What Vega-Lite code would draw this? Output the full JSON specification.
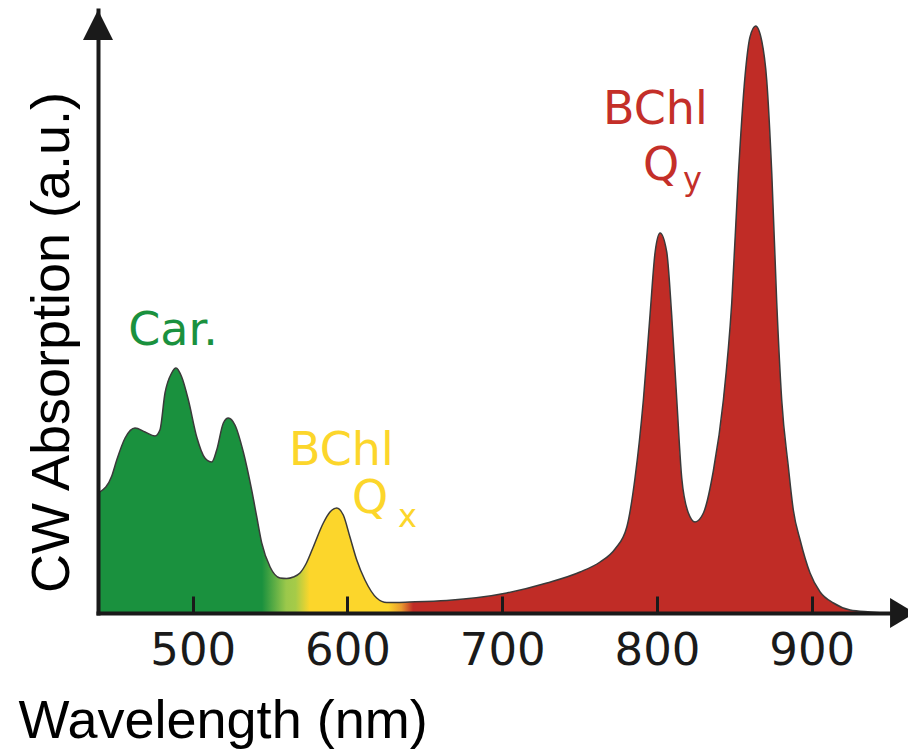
{
  "$schema": "https://vega.github.io/schema/vega-lite/v6.json",
  "width": 810,
  "height": 603,
  "autosize": {"type": "none"},
  "padding": {"left": 98, "top": 10, "right": 0, "bottom": 139},
  "background": "white",
  "config": {"view": {"stroke": null}, "axis": {"grid": false}},
  "datasets": {
    "spectrum": [
      {"wavelength": 440, "absorption": 121},
      {"wavelength": 447.7, "absorption": 137},
      {"wavelength": 450.9, "absorption": 153},
      {"wavelength": 456.3, "absorption": 175},
      {"wavelength": 462.7, "absorption": 185},
      {"wavelength": 469.2, "absorption": 181},
      {"wavelength": 475.6, "absorption": 177},
      {"wavelength": 478.8, "absorption": 183},
      {"wavelength": 482.1, "absorption": 220},
      {"wavelength": 486.4, "absorption": 240},
      {"wavelength": 489.2, "absorption": 245},
      {"wavelength": 492.9, "absorption": 236},
      {"wavelength": 497.2, "absorption": 213},
      {"wavelength": 502.6, "absorption": 176},
      {"wavelength": 507.9, "absorption": 155},
      {"wavelength": 512.3, "absorption": 151},
      {"wavelength": 515.5, "absorption": 163},
      {"wavelength": 519.8, "absorption": 190},
      {"wavelength": 523.0, "absorption": 195},
      {"wavelength": 527.3, "absorption": 188},
      {"wavelength": 532.7, "absorption": 161},
      {"wavelength": 538.1, "absorption": 123},
      {"wavelength": 541.4, "absorption": 96},
      {"wavelength": 544.6, "absorption": 70},
      {"wavelength": 550.0, "absorption": 46},
      {"wavelength": 556.4, "absorption": 35},
      {"wavelength": 560.7, "absorption": 34.5},
      {"wavelength": 565, "absorption": 36},
      {"wavelength": 569.3, "absorption": 40},
      {"wavelength": 573.5, "absorption": 50},
      {"wavelength": 577.9, "absorption": 66},
      {"wavelength": 584.4, "absorption": 90},
      {"wavelength": 588.7, "absorption": 101},
      {"wavelength": 593.1, "absorption": 105},
      {"wavelength": 597.3, "absorption": 98},
      {"wavelength": 601.6, "absorption": 76},
      {"wavelength": 606.0, "absorption": 53},
      {"wavelength": 611.3, "absorption": 33},
      {"wavelength": 618.9, "absorption": 15},
      {"wavelength": 625.4, "absorption": 10.5},
      {"wavelength": 640, "absorption": 11},
      {"wavelength": 664.1, "absorption": 12.5},
      {"wavelength": 702.9, "absorption": 20},
      {"wavelength": 728.8, "absorption": 30},
      {"wavelength": 750.3, "absorption": 41},
      {"wavelength": 763.2, "absorption": 51},
      {"wavelength": 772.9, "absorption": 64},
      {"wavelength": 780.5, "absorption": 86},
      {"wavelength": 785.8, "absorption": 135},
      {"wavelength": 791.2, "absorption": 213},
      {"wavelength": 795.5, "absorption": 298},
      {"wavelength": 798.8, "absorption": 361},
      {"wavelength": 802.0, "absorption": 380},
      {"wavelength": 806.3, "absorption": 361},
      {"wavelength": 809.5, "absorption": 298},
      {"wavelength": 812.8, "absorption": 213},
      {"wavelength": 816.0, "absorption": 135},
      {"wavelength": 820.3, "absorption": 100},
      {"wavelength": 824.6, "absorption": 91},
      {"wavelength": 830.0, "absorption": 100},
      {"wavelength": 836.4, "absorption": 142},
      {"wavelength": 842.9, "absorption": 213},
      {"wavelength": 848.3, "absorption": 310},
      {"wavelength": 852.6, "absorption": 439},
      {"wavelength": 856.9, "absorption": 537},
      {"wavelength": 860.1, "absorption": 576},
      {"wavelength": 863.8, "absorption": 587},
      {"wavelength": 867.7, "absorption": 572},
      {"wavelength": 870.9, "absorption": 533},
      {"wavelength": 874.2, "absorption": 439},
      {"wavelength": 877.4, "absorption": 310},
      {"wavelength": 880.6, "absorption": 213},
      {"wavelength": 884.9, "absorption": 146},
      {"wavelength": 888.1, "absorption": 103},
      {"wavelength": 892.5, "absorption": 73},
      {"wavelength": 898.9, "absorption": 40},
      {"wavelength": 905.4, "absorption": 21},
      {"wavelength": 914.0, "absorption": 10},
      {"wavelength": 924.8, "absorption": 3},
      {"wavelength": 937.8, "absorption": 1},
      {"wavelength": 946, "absorption": 0}
    ],
    "labels": [
      {"wavelength": 458.3, "absorption": 268, "text": "Car.", "group": "Car."},
      {"wavelength": 562.2, "absorption": 148, "text": "BChl", "group": "BChl Qx"},
      {"wavelength": 602.9, "absorption": 100, "text": "Q", "group": "BChl Qx"},
      {"wavelength": 765.1, "absorption": 489, "text": "BChl", "group": "BChl Qy"},
      {"wavelength": 791.0, "absorption": 433, "text": "Q", "group": "BChl Qy"}
    ],
    "subs": [
      {"wavelength": 632.7, "absorption": 86, "text": "x", "group": "BChl Qx"},
      {"wavelength": 816.8, "absorption": 423, "text": "y", "group": "BChl Qy"}
    ],
    "yarrow": [{"wavelength": 438.8, "absorption": 588}],
    "xarrow": [{"wavelength": 957.1, "absorption": 0}]
  },
  "encoding": {
    "x": {
      "field": "wavelength",
      "type": "quantitative",
      "scale": {"domain": [438.8, 962.2], "nice": false, "zero": false},
      "axis": {
        "title": "Wavelength (nm)",
        "zindex": 1,
        "values": [500, 600, 700, 800, 900],
        "domainColor": "#1a1a1a",
        "domainWidth": 4,
        "domainCap": "square",
        "tickColor": "#1a1a1a",
        "tickWidth": 3,
        "tickSize": -17,
        "labelFont": "DejaVu Sans",
        "labelFontSize": 45,
        "labelColor": "#1a1a1a",
        "labelPadding": 32,
        "labelFlush": false,
        "labelOverlap": false,
        "titleFont": "Liberation Sans",
        "titleFontSize": 54,
        "titleFontWeight": "normal",
        "titleColor": "#000000",
        "titleX": -80,
        "titleY": 124,
        "titleAlign": "left",
        "titleBaseline": "alphabetic"
      }
    },
    "y": {
      "field": "absorption",
      "type": "quantitative",
      "scale": {"domain": [0, 603], "nice": false, "zero": false},
      "axis": {
        "title": "CW Absorption (a.u.)",
        "zindex": 1,
        "ticks": false,
        "labels": false,
        "domainColor": "#1a1a1a",
        "domainWidth": 4,
        "domainCap": "square",
        "titleFont": "Liberation Sans",
        "titleFontSize": 54,
        "titleFontWeight": "normal",
        "titleColor": "#000000",
        "titleAngle": 270,
        "titleX": -30,
        "titleY": 332,
        "titleAlign": "center",
        "titleBaseline": "alphabetic"
      }
    }
  },
  "layer": [
    {
      "data": {"name": "spectrum"},
      "mark": {
        "type": "area",
        "interpolate": "monotone",
        "color": {
          "gradient": "linear",
          "x1": 0, "y1": 0, "x2": 1, "y2": 0,
          "stops": [
            {"offset": 0, "color": "#1a913e"},
            {"offset": 0.207, "color": "#1a913e"},
            {"offset": 0.238, "color": "#9bc84b"},
            {"offset": 0.25, "color": "#a6cb48"},
            {"offset": 0.268, "color": "#fcd62b"},
            {"offset": 0.368, "color": "#fcd62b"},
            {"offset": 0.385, "color": "#e99a2f"},
            {"offset": 0.4, "color": "#c02c26"},
            {"offset": 1, "color": "#c02c26"}
          ]
        }
      }
    },
    {
      "data": {"name": "spectrum"},
      "mark": {"type": "line", "interpolate": "monotone", "color": "#3a3a3a", "strokeWidth": 1.5}
    },
    {
      "data": {"name": "labels"},
      "mark": {"type": "text", "align": "left", "baseline": "alphabetic", "font": "DejaVu Sans", "fontSize": 46},
      "encoding": {
        "text": {"field": "text", "type": "nominal"},
        "color": {
          "field": "group",
          "type": "nominal",
          "scale": {"domain": ["Car.", "BChl Qx", "BChl Qy"], "range": ["#1a913e", "#fcd62b", "#c42f29"]},
          "legend": null
        }
      }
    },
    {
      "data": {"name": "subs"},
      "mark": {"type": "text", "align": "left", "baseline": "alphabetic", "font": "DejaVu Sans", "fontSize": 32},
      "encoding": {
        "text": {"field": "text", "type": "nominal"},
        "color": {
          "field": "group",
          "type": "nominal",
          "scale": {"domain": ["Car.", "BChl Qx", "BChl Qy"], "range": ["#1a913e", "#fcd62b", "#c42f29"]},
          "legend": null
        }
      }
    },
    {
      "data": {"name": "yarrow"},
      "mark": {"type": "point", "shape": "M0,-1L1,1L-1,1Z", "size": 900, "filled": true, "color": "#1a1a1a", "opacity": 1, "strokeWidth": 0}
    },
    {
      "data": {"name": "xarrow"},
      "mark": {"type": "point", "shape": "M1,0L-0.67,-1L-0.67,1Z", "size": 900, "filled": true, "color": "#1a1a1a", "opacity": 1, "strokeWidth": 0}
    }
  ]
}
